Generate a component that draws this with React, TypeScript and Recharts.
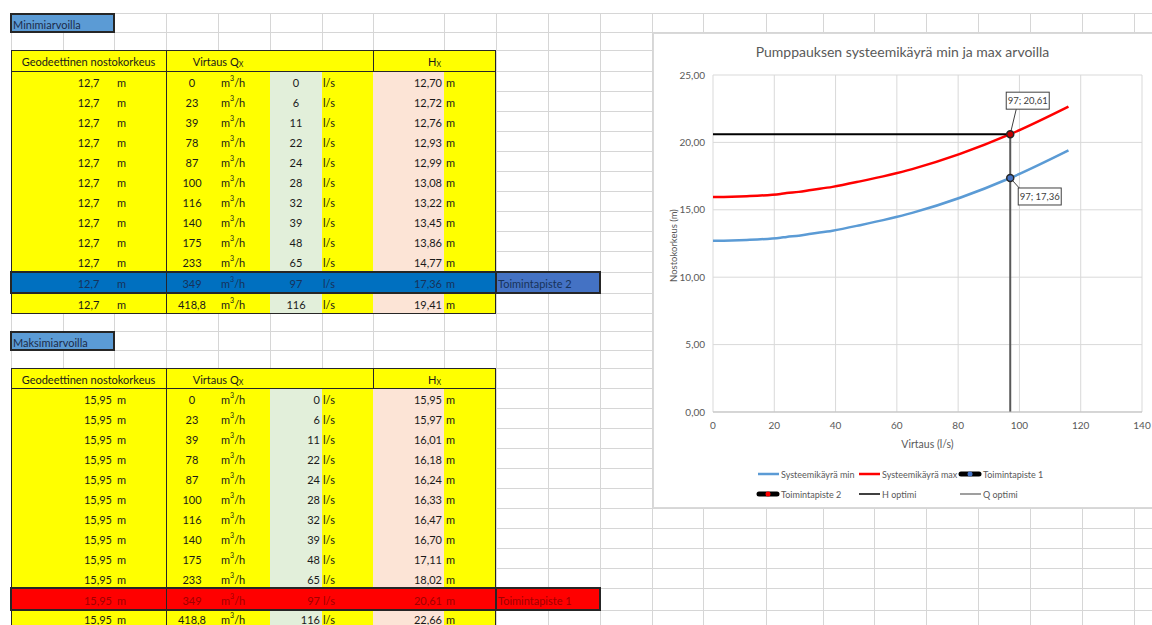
import React from "react";
import { LineChart, Line, XAxis, YAxis, CartesianGrid, Legend } from "recharts";

// table values (l/s and m3/h flows, heads for min and max geodetic height)
const flowM3h = [0, 23, 39, 78, 87, 100, 116, 140, 175, 233, 349, 418.8];
const flowLs = [0, 6, 11, 22, 24, 28, 32, 39, 48, 65, 97, 116];
const headMin = [12.7, 12.72, 12.76, 12.93, 12.99, 13.08, 13.22, 13.45, 13.86, 14.77, 17.36, 19.41];
const headMax = [15.95, 15.97, 16.01, 16.18, 16.24, 16.33, 16.47, 16.7, 17.11, 18.02, 20.61, 22.66];
const geoMin = 12.7;
const geoMax = 15.95;
const opIndex = 10;

const xTicks = [0, 20, 40, 60, 80, 100, 120, 140];
const yTicks = [0, 5, 10, 15, 20, 25];

const seriesNames = ["Systeemikäyrä min", "Systeemikäyrä max", "Toimintapiste 1", "Toimintapiste 2", "H optimi", "Q optimi"];

// sheet layout
const colX = [11, 63, 114, 166, 218, 270, 322, 373, 444, 496, 548, 600, 652, 703, 766, 823, 874, 926, 978, 1030, 1082, 1134];
const rowY = [13, 32, 50, 71, 91, 111, 131, 151, 171, 191, 211, 231, 251, 272, 293, 313, 331, 350, 368, 388, 408, 428, 448, 468, 488, 508, 528, 548, 568, 588, 610];
const minRows = [71, 91, 111, 131, 151, 171, 191, 211, 231, 251, 272, 293, 313];
const maxRows = [388, 408, 428, 448, 468, 488, 508, 528, 548, 568, 588, 610, 626];

const comma = (v: number, d?: number) => (d === undefined ? String(v) : v.toFixed(d)).replace(".", ",");

const Txt = ({ x, w, y, h, align = "left", color = "#1a1a1a", size = 11, children }: any) => (
  <div
    style={{
      position: "absolute", left: x, top: y, width: w, height: h, display: "flex", alignItems: "center",
      justifyContent: align === "left" ? "flex-start" : align === "right" ? "flex-end" : "center",
      fontSize: size, color, whiteSpace: "nowrap", lineHeight: 1, paddingTop: 2, boxSizing: "border-box",
    }}
  >
    {children}
  </div>
);

const Box = ({ x, y, w, h, bg, border }: any) => (
  <div style={{ position: "absolute", left: x, top: y, width: w, height: h, background: bg, border, boxSizing: "border-box" }} />
);

const Sup = ({ children }: any) => <span style={{ fontSize: 7, position: "relative", top: -4 }}>{children}</span>;
const Sub = ({ children }: any) => <span style={{ fontSize: 7, position: "relative", top: 3 }}>{children}</span>;

const YEL = "#ffff00";
const DARK = "#262626";

function SheetTable({ labelTop, title, headTop, rows, geo, heads, kind, hiBg, hiLabelBg, hiText, hiLabel }: any) {
  const headBottom = rows[0];
  const bottom = rows[rows.length - 1];
  return (
    <>
      <Box x={10} y={labelTop} w={105} h={20} bg="#5b9bd5" border={`2px solid ${DARK}`} />
      <Txt x={13} w={100} y={labelTop} h={20} color="#1c2b4a">{title}</Txt>

      <Box x={11} y={headTop} w={485} h={headBottom - headTop} bg={YEL} />
      <Txt x={11} w={155} y={headTop} h={headBottom - headTop} align="center">Geodeettinen nostokorkeus</Txt>
      <Txt x={166} w={104} y={headTop} h={headBottom - headTop} align="center">Virtaus Q<Sub>X</Sub></Txt>
      <Txt x={373} w={123} y={headTop} h={headBottom - headTop} align="center">H<Sub>X</Sub></Txt>

      {flowLs.map((q, i) => {
        const top = rows[i];
        const h = rows[i + 1] - top;
        const hi = i === opIndex;
        const c = hi ? hiText : "#1a1a1a";
        return (
          <React.Fragment key={i}>
            {hi ? (
              <>
                <Box x={11} y={top} w={485} h={h} bg={hiBg} />
                <Box x={496} y={top} w={104} h={h} bg={hiLabelBg} />
              </>
            ) : (
              <>
                <Box x={11} y={top} w={259} h={h} bg={YEL} />
                <Box x={270} y={top} w={52} h={h} bg="#e2efda" />
                <Box x={322} y={top} w={51} h={h} bg={YEL} />
                <Box x={373} y={top} w={71} h={h} bg="#fce4d6" />
                <Box x={444} y={top} w={52} h={h} bg={YEL} />
              </>
            )}
            {kind === "min" ? (
              <Txt x={63} w={51} y={top} h={h} align="center" color={c}>{comma(geo)}</Txt>
            ) : (
              <Txt x={63} w={49} y={top} h={h} align="right" color={c}>{comma(geo)}</Txt>
            )}
            <Txt x={117} w={40} y={top} h={h} color={c}>m</Txt>
            <Txt x={166} w={52} y={top} h={h} align="center" color={c}>{comma(flowM3h[i])}</Txt>
            <Txt x={221} w={48} y={top} h={h} color={c}>m<Sup>3</Sup>/h</Txt>
            {kind === "min" ? (
              <Txt x={270} w={52} y={top} h={h} align="center" color={c}>{q}</Txt>
            ) : (
              <Txt x={270} w={50} y={top} h={h} align="right" color={c}>{q}</Txt>
            )}
            <Txt x={323} w={40} y={top} h={h} color={c}>l/s</Txt>
            <Txt x={373} w={69} y={top} h={h} align="right" color={c}>{comma(heads[i], 2)}</Txt>
            <Txt x={446} w={40} y={top} h={h} color={c}>m</Txt>
            {hi && <Txt x={498} w={100} y={top} h={h} color={hiText}>{hiLabel}</Txt>}
          </React.Fragment>
        );
      })}

      {/* borders */}
      <Box x={11} y={headTop} w={485} h={bottom - headTop + 1} border={`1px solid ${DARK}`} />
      <Box x={11} y={headBottom} w={485} h={1} bg={DARK} />
      <Box x={166} y={headTop} w={1} h={bottom - headTop} bg={DARK} />
      <Box x={373} y={headTop} w={1} h={headBottom - headTop} bg={DARK} />
      <Box x={10} y={rows[opIndex] - 1} w={591} h={rows[opIndex + 1] - rows[opIndex] + 2} border={`2px solid ${DARK}`} />
      <Box x={495} y={rows[opIndex]} w={2} h={rows[opIndex + 1] - rows[opIndex]} bg={DARK} />
    </>
  );
}

const minCurve = flowLs.map((q, i) => ({ q, h: headMin[i] }));
const maxCurve = flowLs.map((q, i) => ({ q, h: headMax[i] }));
const op1 = [{ q: flowLs[opIndex], h: headMin[opIndex] }];
const op2 = [{ q: flowLs[opIndex], h: headMax[opIndex] }];
const hOpt = [{ q: 0, h: headMax[opIndex] }, { q: flowLs[opIndex], h: headMax[opIndex] }];
const qOpt = [{ q: flowLs[opIndex], h: 0 }, { q: flowLs[opIndex], h: headMax[opIndex] }];

const opDot = (fill: string, box: { dx: number; dy: number; lx: number; ly: number }) => (p: any) => {
  const { cx, cy, payload, index } = p;
  const bx = cx + box.dx;
  const by = cy + box.dy;
  return (
    <g key={`op-${index}`}>
      <line x1={cx} y1={cy} x2={cx + box.lx} y2={cy + box.ly} stroke="#404040" strokeWidth={1} />
      <rect x={bx} y={by} width={43} height={17} fill="#fff" stroke="#404040" strokeWidth={1} />
      <text x={bx + 21.5} y={by + 12} textAnchor="middle" fontSize={9.5} fill="#404040">
        {`${payload.q}; ${comma(payload.h, 2)}`}
      </text>
      <circle cx={cx} cy={cy} r={3.5} fill={fill} stroke="#262626" strokeWidth={1.5} />
    </g>
  );
};

const legendLayout = [
  { col: 0, row: 0, sw: "line", color: "#5b9bd5" },
  { col: 1, row: 0, sw: "line", color: "#ff0000" },
  { col: 2, row: 0, sw: "op", color: "#4472c4" },
  { col: 0, row: 1, sw: "op", color: "#ff0000" },
  { col: 1, row: 1, sw: "thin", color: "#000000" },
  { col: 2, row: 1, sw: "thin", color: "#7f7f7f" },
];
const legendCols = [103, 204, 305];

const ChartLegend = () => (
  <div style={{ position: "relative", width: 499, height: 50 }}>
    {legendLayout.map((it, i) => {
      const left = legendCols[it.col];
      const top = it.row === 0 ? 16 : 36;
      return (
        <div key={i} style={{ position: "absolute", left, top: top - 7, height: 14, display: "flex", alignItems: "center", whiteSpace: "nowrap" }}>
          <svg width={24} height={10}>
            {it.sw === "op" ? (
              <>
                <line x1={3} y1={5} x2={21} y2={5} stroke="#000" strokeWidth={5} strokeLinecap="round" />
                <circle cx={12} cy={5} r={2.5} fill={it.color} />
              </>
            ) : (
              <line x1={2} y1={5} x2={23} y2={5} stroke={it.color} strokeWidth={it.sw === "line" ? 2.5 : 1.5} />
            )}
          </svg>
          <span style={{ fontSize: 9, color: "#595959", marginLeft: 1 }}>{seriesNames[i]}</span>
        </div>
      );
    })}
  </div>
);

function PumpChart() {
  return (
    <div style={{ position: "absolute", left: 653, top: 33, width: 502, height: 475, background: "#fff", outline: "1px solid #d9d9d9", outlineOffset: -1 }}>
      <div style={{ position: "absolute", left: 0, top: 10, width: 499, textAlign: "center", fontSize: 14, color: "#595959" }}>
        Pumppauksen systeemikäyrä min ja max arvoilla
      </div>
      <LineChart width={499} height={475} margin={{ top: 42, right: 10, bottom: 0, left: 0 }} style={{ position: "absolute", left: 0, top: 0 }}>
        <CartesianGrid stroke="#d9d9d9" />
        <XAxis
          type="number"
          dataKey="q"
          domain={[0, 140]}
          ticks={xTicks}
          height={46}
          tickLine={false}
          axisLine={{ stroke: "#bfbfbf" }}
          tick={{ fill: "#595959", fontSize: 10 }}
          tickMargin={4}
          label={{ value: "Virtaus (l/s)", position: "insideBottom", offset: 10, fill: "#595959", fontSize: 10.5 }}
        />
        <YAxis
          type="number"
          dataKey="h"
          domain={[0, 25]}
          ticks={yTicks}
          width={60}
          tickLine={false}
          axisLine={false}
          tick={{ fill: "#595959", fontSize: 10 }}
          tickFormatter={(v: number) => comma(v, 2)}
          label={(p: any) => {
            const vb = p.viewBox || { x: 0, y: 42, height: 337 };
            const cx = vb.x + 20;
            const cy = vb.y + vb.height / 2 + 2;
            return (
              <text x={cx} y={cy} transform={`rotate(-90 ${cx} ${cy})`} textAnchor="middle" dominantBaseline="central" fontSize={9.5} fill="#595959">
                Nostokorkeus (m)
              </text>
            );
          }}
        />
        <Legend verticalAlign="bottom" content={<ChartLegend />} wrapperStyle={{ left: 0, bottom: 0, width: 499, height: 50 }} />
        <Line data={minCurve} dataKey="h" name={seriesNames[0]} type="monotone" stroke="#5b9bd5" strokeWidth={2.5} dot={false} isAnimationActive={false} />
        <Line data={maxCurve} dataKey="h" name={seriesNames[1]} type="monotone" stroke="#ff0000" strokeWidth={2.5} dot={false} isAnimationActive={false} />
        <Line data={hOpt} dataKey="h" name={seriesNames[4]} type="linear" stroke="#000000" strokeWidth={2} dot={false} isAnimationActive={false} />
        <Line data={qOpt} dataKey="h" name={seriesNames[5]} type="linear" stroke="#595959" strokeWidth={2} dot={false} isAnimationActive={false} />
        <Line data={op1} dataKey="h" name={seriesNames[2]} stroke="none" isAnimationActive={false}
          dot={opDot("#4472c4", { dx: 8, dy: 10, lx: 9, ly: 10 })} />
        <Line data={op2} dataKey="h" name={seriesNames[3]} stroke="none" isAnimationActive={false}
          dot={opDot("#c00000", { dx: -4, dy: -42, lx: 6, ly: -25 })} />
      </LineChart>
    </div>
  );
}

export default function App() {
  return (
    <div style={{ position: "absolute", left: 0, top: 0, width: 1152, height: 625, overflow: "hidden", background: "#fff", fontFamily: "Lato, 'Open Sans', sans-serif" }}>
      {colX.map((x) => (
        <div key={`c${x}`} style={{ position: "absolute", left: x, top: 13, width: 1, height: 612, background: "#d6d6d6" }} />
      ))}
      {rowY.map((y) => (
        <div key={`r${y}`} style={{ position: "absolute", left: 11, top: y, width: 1141, height: 1, background: "#d6d6d6" }} />
      ))}
      <SheetTable labelTop={13} title="Minimiarvoilla" headTop={50} rows={minRows} geo={geoMin} heads={headMin} kind="min"
        hiBg="#0070c0" hiLabelBg="#4472c4" hiText="#17325a" hiLabel="Toimintapiste 2" />
      <SheetTable labelTop={331} title="Maksimiarvoilla" headTop={368} rows={maxRows} geo={geoMax} heads={headMax} kind="max"
        hiBg="#ff0000" hiLabelBg="#ff0000" hiText="#a00000" hiLabel="Toimintapiste 1" />
      <PumpChart />
    </div>
  );
}
